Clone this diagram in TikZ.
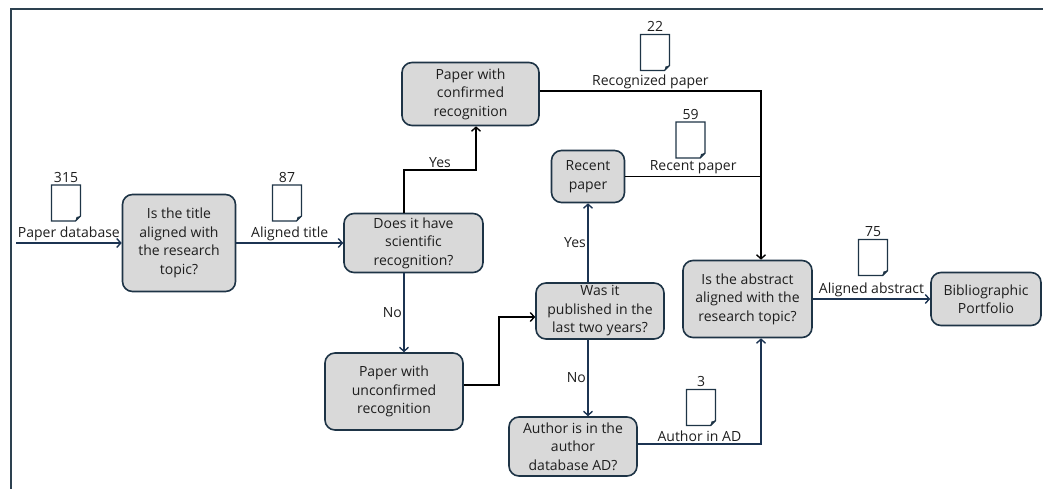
\documentclass[tikz,border=0pt]{standalone}
\usepackage{fontspec}
\setmainfont{Open Sans}
\usetikzlibrary{arrows.meta}
\definecolor{boxGray}{RGB}{217,217,217}
\definecolor{boxEdge}{RGB}{30,52,70}
\definecolor{flowBlue}{RGB}{28,52,82}
\definecolor{frameGray}{RGB}{45,65,80}
\definecolor{textDark}{RGB}{30,30,30}

\begin{document}
\begin{tikzpicture}[x=1pt, y=-1pt, >={Straight Barb[length=4pt,width=9pt]},
    frame/.style={draw=frameGray,line width=2.2pt},
    stepBox/.style={rectangle,rounded corners=10pt,fill=boxGray,draw=boxEdge,line width=1.6pt,align=center,inner sep=1pt,font=\fontsize{14}{18.5}\selectfont,text=textDark},
    connection/.style={draw=flowBlue,line width=1.4pt,->},
    connectionB/.style={draw=black,line width=1.4pt,->},
    flowLabel/.style={font=\fontsize{14}{16}\selectfont,text=textDark,inner sep=1.5pt},
    paperDoc/.pic={
        \draw[draw=boxEdge,line width=1.4pt,fill=white] (-14.5,-18) -- (14.5,-18) -- (14.5,13) -- (9.5,18) -- (-14.5,18) -- cycle;
        \fill[boxEdge] (14.5,13) -- (9.5,18) -- (10.5,14) -- cycle;
        \node[flowLabel,anchor=south] (-num) at (0,-19) {#1};
    },
]
	\useasboundingbox (0,0) rectangle (1043,489);
	\draw[frame] (11,489) -- (11,9) -- (1043,9);

	% process steps
	\node[stepBox,minimum width=113pt,minimum height=97pt] (title) at (179,243) {Is the title\\aligned with\\the research\\topic?};
	\node[stepBox,minimum width=139pt,minimum height=59pt] (recog) at (413.5,243) {Does it have\\scientific\\recognition?};
	\node[stepBox,minimum width=137pt,minimum height=63pt] (confirmed) at (470.5,94) {Paper with\\confirmed\\recognition};
	\node[stepBox,minimum width=138pt,minimum height=77pt] (unconfirmed) at (394,391.5) {Paper with\\unconfirmed\\recognition};
	\node[stepBox,minimum width=128pt,minimum height=56pt] (recentQ) at (600,311) {Was it\\published in the\\last two years?};
	\node[stepBox,minimum width=128pt,minimum height=59pt] (authorQ) at (573,446.5) {Author is in the\\author\\database AD?};
	\node[stepBox,minimum width=73pt,minimum height=52pt] (recent) at (588,176.5) {Recent\\paper};
	\node[stepBox,minimum width=129pt,minimum height=77pt] (abstractQ) at (747.5,299) {Is the abstract\\aligned with the\\research topic?};
	\node[stepBox,minimum width=110pt,minimum height=53pt] (portfolio) at (986,299) {Bibliographic\\Portfolio};

	% documents
	\pic (docDb) at (66,203) {paperDoc=315};
	\pic (docTitle) at (287,203) {paperDoc=87};
	\pic (docRecog) at (655,52.5) {paperDoc=22};
	\pic (docRecent) at (690.5,140) {paperDoc=59};
	\pic (docAuthor) at (701,407.5) {paperDoc=3};
	\pic (docAbstract) at (873,257.5) {paperDoc=75};

	\coordinate (source) at (16,243);
	\coordinate (yesBend) at (404,170);
	\coordinate (bendU) at (499,317);
	\coordinate (mergeRecent) at ([xshift=13.5pt]abstractQ.north |- recent.east);

	\draw[connection](source)--node[flowLabel,above](lblDb){Paper database}(title);
	\draw[connection](title)--node[flowLabel,above](lblTitle){Aligned title}(recog);
	\draw[connectionB](recog.north -| yesBend)--(yesBend)-|node[flowLabel,pos=0.25,above](lblYes1){Yes}([xshift=5.5pt]confirmed.south);
	\draw[connection]([xshift=-9.5pt]recog.south)--node[flowLabel,left](lblNo1){No}([xshift=-9.5pt]recog.south |- unconfirmed.north);
	\draw[connectionB]([yshift=6.5pt]unconfirmed.east)-|(bendU)--([yshift=-6pt]recentQ.west);
	\draw[connection](recentQ.north -| recent)--node[flowLabel,left](lblYes2){Yes}(recent);
	\draw[connection](recentQ.south -| recent)--node[flowLabel,left](lblNo2){No}(recent |- authorQ.north);
	\draw[connectionB]([yshift=3pt]confirmed.east)-|node[flowLabel,pos=0.25,above](lblRecog){Recognized paper}([xshift=13.5pt]abstractQ.north);
	\draw[connectionB,-](recent.east)--node[flowLabel,above](lblRecent){Recent paper}(mergeRecent);
	\draw[connection]([yshift=2.5pt]authorQ.east)-|node[flowLabel,pos=0.25,above](lblAuthor){Author in AD}([xshift=13.5pt]abstractQ.south);
	\draw[connection](abstractQ)--node[flowLabel,above](lblAbstract){Aligned abstract}(portfolio);

\end{tikzpicture}
\end{document}
